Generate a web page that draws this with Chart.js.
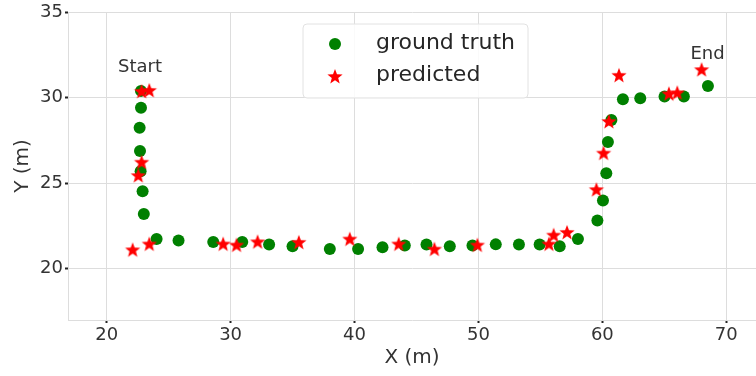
<!DOCTYPE html>
<html>
<head>
<meta charset="utf-8">
<script src="https://cdn.jsdelivr.net/npm/chart.js@4/dist/chart.umd.min.js"></script>
<style>
  html, body { margin: 0; padding: 0; background: #ffffff; }
  #wrap { width: 756px; height: 376px; }
</style>
</head>
<body>
<div id="wrap"><canvas id="c" width="756" height="376"></canvas></div>
<script>
// ---- data ----
const gtX = [22.77,22.77,22.66,22.69,22.74,22.90,23.00,24.03,25.80,28.60,30.94,33.11,35.00,38.01,40.29,42.26,44.06,45.81,47.69,49.52,51.40,53.27,54.94,56.56,58.03,59.60,60.05,60.32,60.45,60.73,61.66,63.06,65.02,66.58,68.52];
const gtY = [30.39,29.41,28.24,26.87,25.70,24.53,23.20,21.74,21.65,21.56,21.56,21.41,21.31,21.15,21.15,21.25,21.35,21.41,21.31,21.35,21.42,21.41,21.41,21.31,21.74,22.82,23.98,25.57,27.40,28.69,29.90,29.96,30.06,30.06,30.68];
const predX = [22.82,23.44,22.82,22.55,23.44,22.10,29.40,30.48,32.18,35.51,39.62,43.57,46.45,49.92,55.69,56.07,57.15,59.52,60.10,60.53,61.34,65.37,66.05,68.01];
const predY = [30.33,30.39,26.19,25.41,21.41,21.07,21.41,21.35,21.54,21.51,21.70,21.41,21.11,21.35,21.41,21.93,22.09,24.59,26.72,28.57,31.27,30.19,30.25,31.60];
const xTicks = [20,30,40,50,60,70];
const yTicks = [20,25,30,35];
const seriesLabels = ['ground truth', 'predicted'];
const notes = [
  { text: 'Start', x: 22.69, y: 31.78 },
  { text: 'End',   x: 68.49, y: 32.54 }
];

const FONT = "'DejaVu Sans', 'Liberation Sans', sans-serif";
const TXT = '#333333';
const GRID = '#dddddd';

// star marker
function makeStar(outer, color) {
  const size = Math.ceil(outer * 2 + 2);
  const cv = document.createElement('canvas');
  cv.width = size; cv.height = size;
  const g = cv.getContext('2d');
  const cx = size / 2, cy = size / 2, inner = outer * 0.42;
  g.beginPath();
  for (let i = 0; i < 10; i++) {
    const r = i % 2 === 0 ? outer : inner;
    const a = -Math.PI / 2 + i * Math.PI / 5;
    const px = cx + r * Math.cos(a), py = cy + r * Math.sin(a);
    if (i === 0) g.moveTo(px, py); else g.lineTo(px, py);
  }
  g.closePath();
  g.fillStyle = color;
  g.fill();
  return cv;
}
const starImg = makeStar(8, '#ff0000');

const gtData = gtX.map((x, i) => ({ x, y: gtY[i] }));
const predData = predX.map((x, i) => ({ x, y: predY[i] }));

const notesPlugin = {
  id: 'notes',
  afterDatasetsDraw(chart) {
    const ctx = chart.ctx;
    const xs = chart.scales.x, ys = chart.scales.y;
    ctx.save();
    ctx.font = '18px ' + FONT;
    ctx.fillStyle = TXT;
    ctx.textAlign = 'center';
    ctx.textBaseline = 'middle';
    notes.forEach(n => ctx.fillText(n.text, xs.getPixelForValue(n.x), ys.getPixelForValue(n.y)));
    ctx.restore();
  }
};

const legendPlugin = {
  id: 'customLegend',
  afterDraw(chart) {
    const ctx = chart.ctx;
    const bx = 303, by = 24, bw = 225, bh = 74, r = 4;
    ctx.save();
    ctx.beginPath();
    ctx.moveTo(bx + r, by);
    ctx.arcTo(bx + bw, by, bx + bw, by + bh, r);
    ctx.arcTo(bx + bw, by + bh, bx, by + bh, r);
    ctx.arcTo(bx, by + bh, bx, by, r);
    ctx.arcTo(bx, by, bx + bw, by, r);
    ctx.closePath();
    ctx.fillStyle = 'rgba(255,255,255,0.85)';
    ctx.fill();
    ctx.strokeStyle = '#e2e2e2';
    ctx.lineWidth = 1;
    ctx.stroke();
    const ds = chart.data.datasets;
    ctx.beginPath();
    ctx.arc(335, 44, 6, 0, Math.PI * 2);
    ctx.fillStyle = ds[0].backgroundColor;
    ctx.fill();
    ctx.drawImage(starImg, 335 - starImg.width / 2, 77 - starImg.height / 2);
    ctx.font = '22px ' + FONT;
    ctx.fillStyle = '#262626';
    ctx.textAlign = 'left';
    ctx.textBaseline = 'middle';
    ctx.fillText(ds[0].label, 376, 43);
    ctx.fillText(ds[1].label, 376, 75);
    ctx.restore();
  }
};

new Chart(document.getElementById('c'), {
  type: 'scatter',
  data: {
    datasets: [
      {
        label: seriesLabels[0],
        data: gtData,
        backgroundColor: '#008000',
        borderColor: '#008000',
        pointRadius: 6,
        pointHoverRadius: 6,
        borderWidth: 0,
        order: 1
      },
      {
        label: seriesLabels[1],
        data: predData,
        backgroundColor: '#ff0000',
        borderColor: '#ff0000',
        pointStyle: starImg,
        pointRadius: 8,
        order: 0
      }
    ]
  },
  options: {
    responsive: false,
    animation: false,
    devicePixelRatio: 1,
    layout: { autoPadding: false, padding: { top: 12, right: 0, left: 0, bottom: 0 } },
    plugins: {
      legend: { display: false },
      tooltip: { enabled: false }
    },
    scales: {
      x: {
        type: 'linear',
        min: 16.88,
        max: 72.4,
        afterBuildTicks(scale) { scale.ticks = xTicks.map(v => ({ value: v })); },
        afterFit(scale) { scale.height = 56; scale.paddingRight = 0; scale.paddingLeft = 0; },
        grid: { color: GRID, lineWidth: 1, tickLength: 3, tickColor: '#222222', tickWidth: 2 },
        border: { color: GRID },
        ticks: { font: { family: FONT, size: 18 }, color: TXT, padding: 2, maxRotation: 0 },
        title: { display: true, text: 'X (m)', font: { family: FONT, size: 20 }, color: TXT, padding: { top: 0, bottom: 6 } }
      },
      y: {
        type: 'linear',
        min: 17,
        max: 35,
        afterBuildTicks(scale) { scale.ticks = yTicks.map(v => ({ value: v })); },
        afterFit(scale) { scale.width = 68; scale.paddingTop = 0; scale.paddingBottom = 0; },
        grid: { color: GRID, lineWidth: 1, tickLength: 3, tickColor: '#222222', tickWidth: 2 },
        border: { color: GRID },
        ticks: { font: { family: FONT, size: 18 }, color: TXT, padding: 2 },
        title: { display: true, text: 'Y (m)', font: { family: FONT, size: 20 }, color: TXT, padding: { top: 11, bottom: 0 } }
      }
    }
  },
  plugins: [notesPlugin, legendPlugin]
});
</script>
</body>
</html>
